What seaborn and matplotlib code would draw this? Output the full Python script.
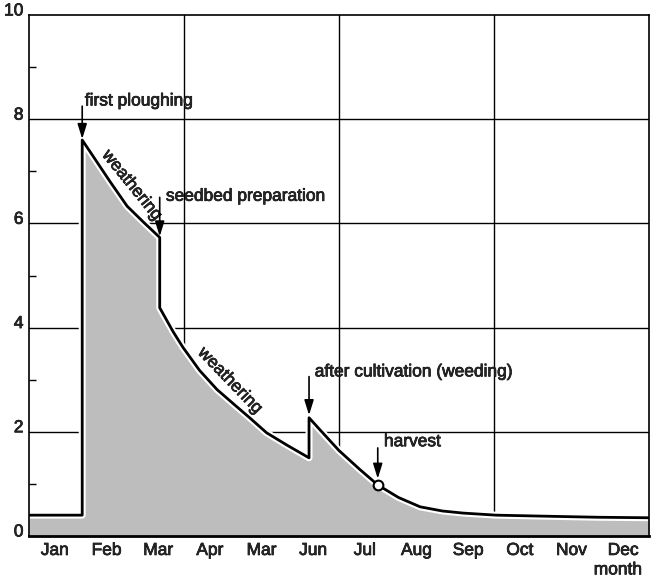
import numpy as np
import pandas as pd
import matplotlib
matplotlib.use("Agg")
import matplotlib.pyplot as plt
import matplotlib.patheffects as pe
import matplotlib.transforms as mtransforms
import seaborn as sns

# curve (month position, value)
months = [0, 1.03, 1.03, 1.24, 1.57, 1.9, 2.22, 2.53, 2.53, 2.79, 2.98, 3.3,
          3.64, 4.0, 4.27, 4.6, 5.0, 5.42, 5.42, 5.63, 6.0, 6.4, 6.75, 7.15,
          7.57, 8.0, 8.4, 9.04, 10.0, 11.0, 12.0]
values = [0.4, 0.4, 7.6, 7.29, 6.8, 6.33, 6.02, 5.73, 4.38, 3.92, 3.62, 3.18,
          2.81, 2.5, 2.27, 1.98, 1.74, 1.5, 2.27, 2.04, 1.64, 1.28, 0.98, 0.74,
          0.56, 0.48, 0.44, 0.4, 0.38, 0.36, 0.35]
month_labels = ["Jan", "Feb", "Mar", "Apr", "Mar", "Jun", "Jul", "Aug", "Sep",
                "Oct", "Nov", "Dec"]
harvest = (6.75, 0.98)

df = pd.DataFrame({"month": months, "value": values})

sns.set_style("white")
plt.rcParams["font.family"] = ["Liberation Sans", "DejaVu Sans"]
FS = 12.5
bold_fx = [pe.withStroke(linewidth=0.5, foreground="black")]

fig = plt.figure(figsize=(6.51, 5.79), dpi=100)
ax = fig.add_axes([29 / 651, 43 / 579, 620 / 651, 521 / 579])

# grid first, underneath everything
for y in [2, 4, 6, 8]:
    ax.axhline(y, color="black", lw=1, zorder=1)
for x in [3, 6, 9]:
    ax.axvline(x, color="black", lw=1, zorder=1)

# shaded area under the curve
ax.fill_between(df["month"], 0, df["value"], color="#bdbdbd", lw=0, zorder=2)

sns.lineplot(data=df, x="month", y="value", estimator=None, sort=False,
             color="black", lw=2, ax=ax, zorder=3,
             path_effects=[pe.Stroke(linewidth=5, foreground="white"), pe.Normal()])

ax.plot(*harvest, "o", ms=7, mfc="white", mec="black", mew=1.5, zorder=4)

ax.set_xlim(0, 12)
ax.set_ylim(0, 10)
ax.set_xticks(np.arange(12) + 0.5)
ax.set_xticklabels(month_labels)
ax.set_yticks(range(0, 11, 2))
ax.set_yticks(range(1, 10, 2), minor=True)
ax.tick_params(axis="x", length=0, pad=5, labelsize=FS)
ax.tick_params(axis="y", which="major", length=0, pad=4, labelsize=FS)
ax.tick_params(axis="y", which="minor", direction="in", length=5, width=1,
               color="black", left=True)
ax.set_xlabel("")
ax.set_ylabel("")
for lbl in ax.get_xticklabels() + ax.get_yticklabels():
    lbl.set_path_effects(bold_fx)
shift = mtransforms.ScaledTranslation(0, 4 / 72, fig.dpi_scale_trans)
for lbl in ax.get_yticklabels():
    lbl.set_transform(lbl.get_transform() + shift)
for side, s in ax.spines.items():
    s.set_color("black")
    s.set_linewidth(1.2)
    s.set_zorder(5)
ax.spines["bottom"].set_linewidth(2)

ax.text(11.4, -0.65, "month", ha="center", va="center", fontsize=FS,
        path_effects=bold_fx)

arrow = dict(arrowstyle="-|>,head_length=0.9,head_width=0.28", color="black",
             lw=1.2, shrinkA=0, shrinkB=0)

def mark(x, y0, y1, label, tx, ty):
    ax.annotate("", xy=(x, y1), xytext=(x, y0), arrowprops=arrow, zorder=5)
    ax.text(tx, ty, label, fontsize=FS, ha="left", va="center",
            path_effects=bold_fx)

mark(1.03, 8.25, 7.62, "first ploughing", 1.08, 8.35)
mark(2.53, 6.5, 5.75, "seedbed preparation", 2.65, 6.52)
mark(5.42, 3.06, 2.32, "after cultivation (weeding)", 5.53, 3.15)
mark(6.75, 1.69, 1.1, "harvest", 6.87, 1.81)

ax.text(1.99, 6.73, "weathering", fontsize=FS, rotation=-51,
        ha="center", va="center", rotation_mode="anchor", path_effects=bold_fx)
ax.text(3.89, 2.98, "weathering", fontsize=FS, rotation=-46,
        ha="center", va="center", rotation_mode="anchor", path_effects=bold_fx)

fig.savefig("out.png", dpi=100)
